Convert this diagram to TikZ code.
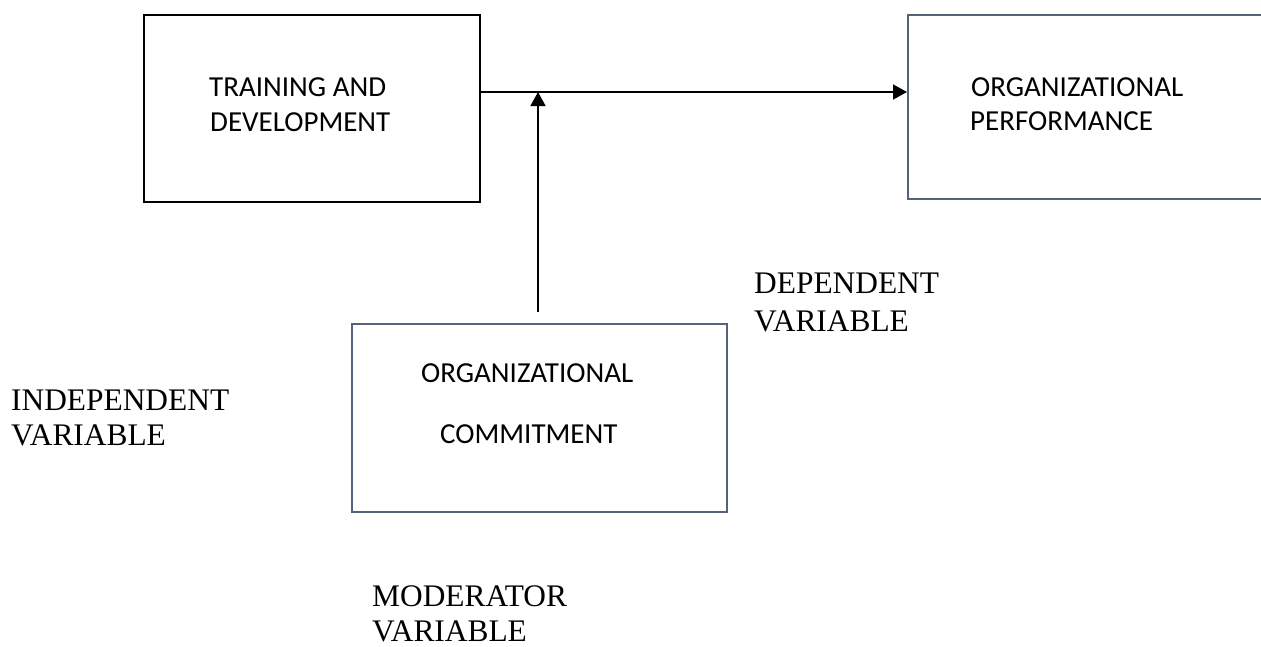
\documentclass[tikz,border=0pt]{standalone}
\usepackage{fontspec}
\setmainfont{Liberation Serif}
\newfontfamily\boxfont{Carlito}
\usetikzlibrary{arrows.meta}
\definecolor{slate}{RGB}{84,98,122}
\tikzset{
  slatebox/.style={draw=slate, line width=2pt, inner sep=0pt},
  boxtxt/.style={anchor=base west, inner sep=0pt, font=\boxfont\fontsize{29}{35}\selectfont},
  vartxt/.style={anchor=base west, inner sep=0pt, font=\fontsize{31.4}{36}\selectfont},
  conn/.style={line width=1.5pt, -{Triangle[length=14pt,width=15pt]}}
}
\begin{document}
\begin{tikzpicture}[x=1pt,y=-1pt]
\useasboundingbox (0,0) rectangle (1261,646);
% boxes
\node[draw=black, line width=2.2pt, inner sep=0pt, minimum width=336pt, minimum height=187pt] (tbox) at (312,108.5) {};
\node[slatebox, minimum width=362pt, minimum height=184pt] (pbox) at (1089,107) {};
\node[slatebox, minimum width=375pt, minimum height=188pt] (cbox) at (539.5,418) {};
% box texts
\node[boxtxt] (t1) at (209,96) {TRAINING AND};
\node[boxtxt] (t2) at (210,131) {DEVELOPMENT};
\node[boxtxt] (p1) at (971,96) {ORGANIZATIONAL};
\node[boxtxt] (p2) at (970,130) {PERFORMANCE};
\node[boxtxt] (c1) at (421,382) {ORGANIZATIONAL};
\node[boxtxt] (c2) at (440,443) {COMMITMENT};
% variable labels
\node[vartxt] (iv1) at (11,410) {INDEPENDENT};
\node[vartxt] (iv2) at (11,445) {VARIABLE};
\node[vartxt] (dv1) at (754,293) {DEPENDENT};
\node[vartxt] (dv2) at (754,331) {VARIABLE};
\node[vartxt] (mv1) at (372,606) {MODERATOR};
\node[vartxt] (mv2) at (372,641) {VARIABLE};
% connectors
\coordinate (j) at (538,92);
\coordinate (vb) at (538,312);
\draw[conn] (tbox.east |- j) -- (pbox.west |- j);
\draw[conn] (vb) -- (j);
\end{tikzpicture}
\end{document}
